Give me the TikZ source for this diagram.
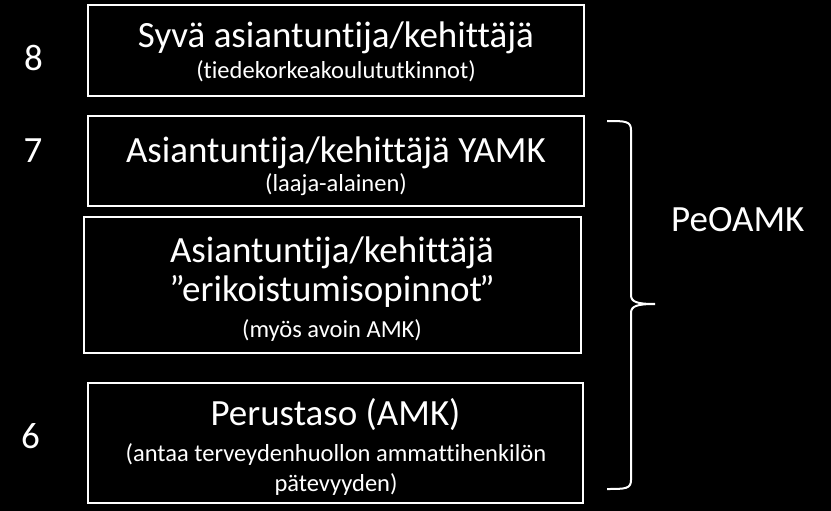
\documentclass[tikz,border=0pt]{standalone}
\usepackage{fontspec}
\setmainfont{Carlito}[RawFeature={-liga;-dlig;-clig}]
\begin{document}
\begin{tikzpicture}[x=1pt,y=-1pt,
  box/.style={draw=white,line width=2pt,inner sep=0pt},
  title/.style={text=white,font=\fontsize{37}{44}\selectfont,anchor=base,inner sep=0pt},
  sub/.style={text=white,font=\fontsize{24.5}{30}\selectfont,anchor=base,inner sep=0pt},
  level/.style={text=white,font=\fontsize{37}{44}\selectfont,anchor=base,inner sep=0pt},
  bracestyle/.style={draw=white,line width=2pt}]
\fill[black] (0,0) rectangle (831,511);
\useasboundingbox (0,0) rectangle (831,511);
% boxes
\node[box,minimum width=496pt,minimum height=91pt] (b1) at (336,50.5) {};
\node[box,minimum width=496pt,minimum height=89.5pt] (b2) at (336,160.75) {};
\node[box,minimum width=497pt,minimum height=136pt] (b3) at (332.5,285) {};
\node[box,minimum width=495pt,minimum height=120pt] (b4) at (335.5,443) {};
% texts
\node[title] (t1) at (336,48) {Syvä asiantuntija/kehittäjä};
\node[sub] (s1) at (336,79) {(tiedekorkeakoulututkinnot)};
\node[title] (t2) at (336,162) {Asiantuntija/kehittäjä YAMK};
\node[sub] (s2) at (336,191) {(laaja-alainen)};
\node[title] (t3a) at (332,262) {Asiantuntija/kehittäjä};
\node[title] (t3b) at (332,301) {”erikoistumisopinnot\kern-3pt”};
\node[sub] (s3) at (332,337) {(myös avoin AMK)};
\node[title] (t4) at (335.5,425) {Perustaso (AMK)};
\node[sub] (s4a) at (336,461) {(antaa terveydenhuollon ammattihenkilön};
\node[sub] (s4b) at (336,491) {pätevyyden)};
% levels
\node[level] (n8) at (33.5,71) {8};
\node[level] (n7) at (33,162) {7};
\node[level] (n6) at (30.5,448) {6};
% brace
\coordinate (bt) at (607,121);
\coordinate (tip) at (655,304);
\coordinate (bb) at (607,489);
\path[bracestyle] (bt) .. controls (625,121) and (631,121) .. (631,130)
  -- (631,295) .. controls (631,302) and (637,304) .. (tip)
  .. controls (637,304) and (631,306) .. (631,313)
  -- (631,480) .. controls (631,489) and (625,489) .. (bb);
\node[title,anchor=base west] (pe) at (671,231) {PeOAMK};
\end{tikzpicture}
\end{document}
